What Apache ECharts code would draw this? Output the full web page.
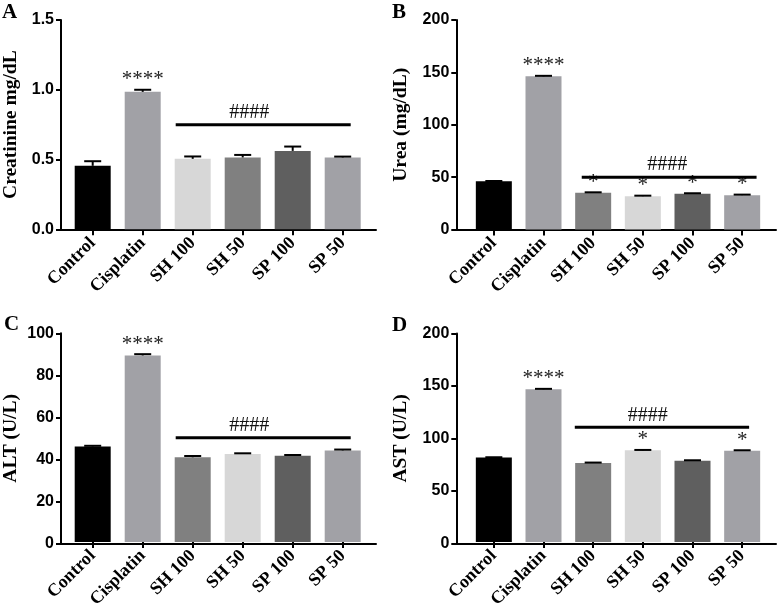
<!DOCTYPE html>
<html>
<head>
<meta charset="utf-8">
<script src="https://cdn.jsdelivr.net/npm/echarts@6/dist/echarts.min.js"></script>
<style>html,body{margin:0;padding:0;background:#fff;}#c{width:777px;height:611px;}</style>
</head>
<body>
<div id="c"></div>
<script>
// ---- data ----
const categories = ['Control', 'Cisplatin', 'SH 100', 'SH 50', 'SP 100', 'SP 50'];

const creatinineMean = [0.455, 0.985, 0.505, 0.515, 0.562, 0.515];
const creatinineErr  = [0.033, 0.015, 0.017, 0.018, 0.031, 0.006];
const creatinineStars = ['', '****', '', '', '', ''];
const creatinineAxis = [0, 1.5, 0.5];           // min, max, interval
const creatinineHash = [0.75, 1.66, 5.16, 3.13]; // y, from, to, label pos (category units)

const ureaMean = [46, 146.2, 35, 31.8, 34.1, 32.8];
const ureaErr  = [0.3, 0.5, 0.5, 0.5, 0.5, 0.5];
const ureaStars = ['', '****', '*', '*', '*', '*'];
const ureaAxis = [0, 200, 50];
const ureaHash = [50, 1.77, 5.29, 3.49];

const altMean = [45.8, 89.4, 40.6, 42.2, 41.3, 43.9];
const altErr  = [0.3, 0.6, 0.6, 0.3, 0.4, 0.4];
const altStars = ['', '****', '', '', '', ''];
const altAxis = [0, 100, 20];
const altHash = [50, 1.66, 5.16, 3.13];

const astMean = [81, 146.5, 75.8, 87.9, 78, 87.6];
const astErr  = [0.3, 0.4, 0.4, 0.4, 0.4, 0.4];
const astStars = ['', '****', '', '*', '', '*'];
const astAxis = [0, 200, 50];
const astHash = [110, 1.63, 5.14, 3.10];

// ---- styles ----
const BLACK = '#000000', CIS = '#a1a1a6', LIGHT = '#d7d7d7', MID = '#808080', DARK = '#5f5f5f';
const shadesA = [BLACK, CIS, LIGHT, MID, DARK, CIS];
const shadesB = [BLACK, CIS, MID, LIGHT, DARK, CIS];

const panels = [
  {letter: 'A', name: 'Creatinine mg/dL', mean: creatinineMean, err: creatinineErr, stars: creatinineStars, axis: creatinineAxis, hash: creatinineHash, dec: 1, colors: shadesA,
   frame: {left: 60, top: 20, width: 316, height: 209.3}, bars: {left: 67.7, width: 300}, nameGap: 40, letterPos: [2, 2]},
  {letter: 'B', name: 'Urea (mg/dL)', mean: ureaMean, err: ureaErr, stars: ureaStars, axis: ureaAxis, hash: ureaHash, dec: 0, colors: shadesB,
   frame: {left: 456.3, top: 20, width: 319.7, height: 209.5}, bars: {left: 469, width: 298}, nameGap: 45, letterPos: [392, 2]},
  {letter: 'C', name: 'ALT (U/L)', mean: altMean, err: altErr, stars: altStars, axis: altAxis, hash: altHash, dec: 0, colors: shadesB,
   frame: {left: 60, top: 333.3, width: 316, height: 210}, bars: {left: 67.7, width: 300}, nameGap: 40, letterPos: [4, 314]},
  {letter: 'D', name: 'AST (U/L)', mean: astMean, err: astErr, stars: astStars, axis: astAxis, hash: astHash, dec: 0, colors: shadesB,
   frame: {left: 456.3, top: 333.5, width: 319.7, height: 209.8}, bars: {left: 469, width: 298}, nameGap: 45, letterPos: [392, 315]}
];

const SERIF = 'Liberation Serif';
const SANS = 'Liberation Sans';

const grid = [], xAxis = [], yAxis = [], series = [], title = [];

panels.forEach((p, k) => {
  const fi = 2 * k, bi = 2 * k + 1;
  grid.push({left: p.frame.left, top: p.frame.top, width: p.frame.width, height: p.frame.height});
  grid.push({left: p.bars.left, top: p.frame.top, width: p.bars.width, height: p.frame.height});

  title.push({text: p.letter, left: p.letterPos[0], top: p.letterPos[1], padding: 0,
    textStyle: {fontFamily: SERIF, fontWeight: 'bold', fontSize: 21, color: '#000'}});

  xAxis.push({type: 'value', gridIndex: fi, min: 0, max: 1,
    axisLine: {show: true, onZero: false, lineStyle: {color: '#000', width: 2}},
    axisTick: {show: false}, axisLabel: {show: false}, splitLine: {show: false}});
  yAxis.push({type: 'value', gridIndex: fi, min: p.axis[0], max: p.axis[1], interval: p.axis[2],
    name: p.name, nameLocation: 'middle', nameGap: p.nameGap,
    nameTextStyle: {fontFamily: SERIF, fontWeight: 'bold', fontSize: 19.5, color: '#000'},
    axisLine: {show: true, lineStyle: {color: '#000', width: 2}},
    axisTick: {show: true, length: 5, lineStyle: {color: '#000', width: 2}},
    axisLabel: {margin: 7, fontFamily: SANS, fontWeight: 'bold', fontSize: 16, color: '#000',
      formatter: v => v.toFixed(p.dec)},
    splitLine: {show: false}});

  xAxis.push({type: 'category', gridIndex: bi, data: categories,
    axisLine: {show: false},
    axisTick: {show: true, alignWithLabel: true, length: 6, lineStyle: {color: '#000', width: 2}},
    axisLabel: {rotate: 45, margin: 11, interval: 0, fontFamily: SERIF, fontWeight: 'bold', fontSize: 18, color: '#000'},
    splitLine: {show: false}});
  yAxis.push({type: 'value', gridIndex: bi, min: p.axis[0], max: p.axis[1], interval: p.axis[2], show: false, splitLine: {show: false}});

  series.push({type: 'bar', xAxisIndex: bi, yAxisIndex: bi, barWidth: 36, silent: true,
    data: p.mean.map((v, j) => ({value: v, itemStyle: {color: p.colors[j]}}))});

  // error bars (upper only)
  series.push({type: 'custom', xAxisIndex: bi, yAxisIndex: bi, silent: true, z: 5,
    data: p.mean.map((v, j) => [j, v, p.err[j]]),
    renderItem: (params, api) => {
      const x = api.value(0), m = api.value(1), e = api.value(2);
      const base = api.coord([x, m]);
      const top = api.coord([x, m + e]);
      const half = 8.5;
      return {type: 'group', children: [
        {type: 'line', shape: {x1: base[0], y1: base[1], x2: top[0], y2: top[1]}, style: {stroke: '#000', lineWidth: 2}},
        {type: 'line', shape: {x1: top[0] - half, y1: top[1], x2: top[0] + half, y2: top[1]}, style: {stroke: '#000', lineWidth: 2}}
      ]};
    }});

  // significance stars
  series.push({type: 'custom', xAxisIndex: bi, yAxisIndex: bi, silent: true, z: 6,
    data: p.mean.map((v, j) => [j, v + p.err[j]]),
    renderItem: (params, api) => {
      const j = params.dataIndex;
      const s = p.stars[j];
      if (!s) return null;
      const pt = api.coord([api.value(0), api.value(1)]);
      return {type: 'text', x: pt[0], y: pt[1] - 10,
        style: {text: s, fontFamily: SERIF, fontSize: 21, fill: '#222', align: 'center', verticalAlign: 'middle'}};
    }});

  // #### bracket
  series.push({type: 'custom', xAxisIndex: bi, yAxisIndex: bi, silent: true, z: 6,
    data: [[0, p.hash[0]]],
    renderItem: (params, api) => {
      const p0 = api.coord([0, api.value(1)]);
      const bw = api.size([1, 0])[0];
      const x1 = p0[0] + p.hash[1] * bw, x2 = p0[0] + p.hash[2] * bw, lx = p0[0] + p.hash[3] * bw;
      return {type: 'group', children: [
        {type: 'line', shape: {x1: x1, y1: p0[1], x2: x2, y2: p0[1]}, style: {stroke: '#000', lineWidth: 3}},
        {type: 'text', x: lx, y: p0[1] - 12,
          style: {text: '####', fontFamily: SERIF, fontSize: 20, fill: '#111', align: 'center', verticalAlign: 'middle'}}
      ]};
    }});
});

const chart = echarts.init(document.getElementById('c'), null, {renderer: 'canvas'});
chart.setOption({animation: false, backgroundColor: '#fff', title, grid, xAxis, yAxis, series});
</script>
</body>
</html>
